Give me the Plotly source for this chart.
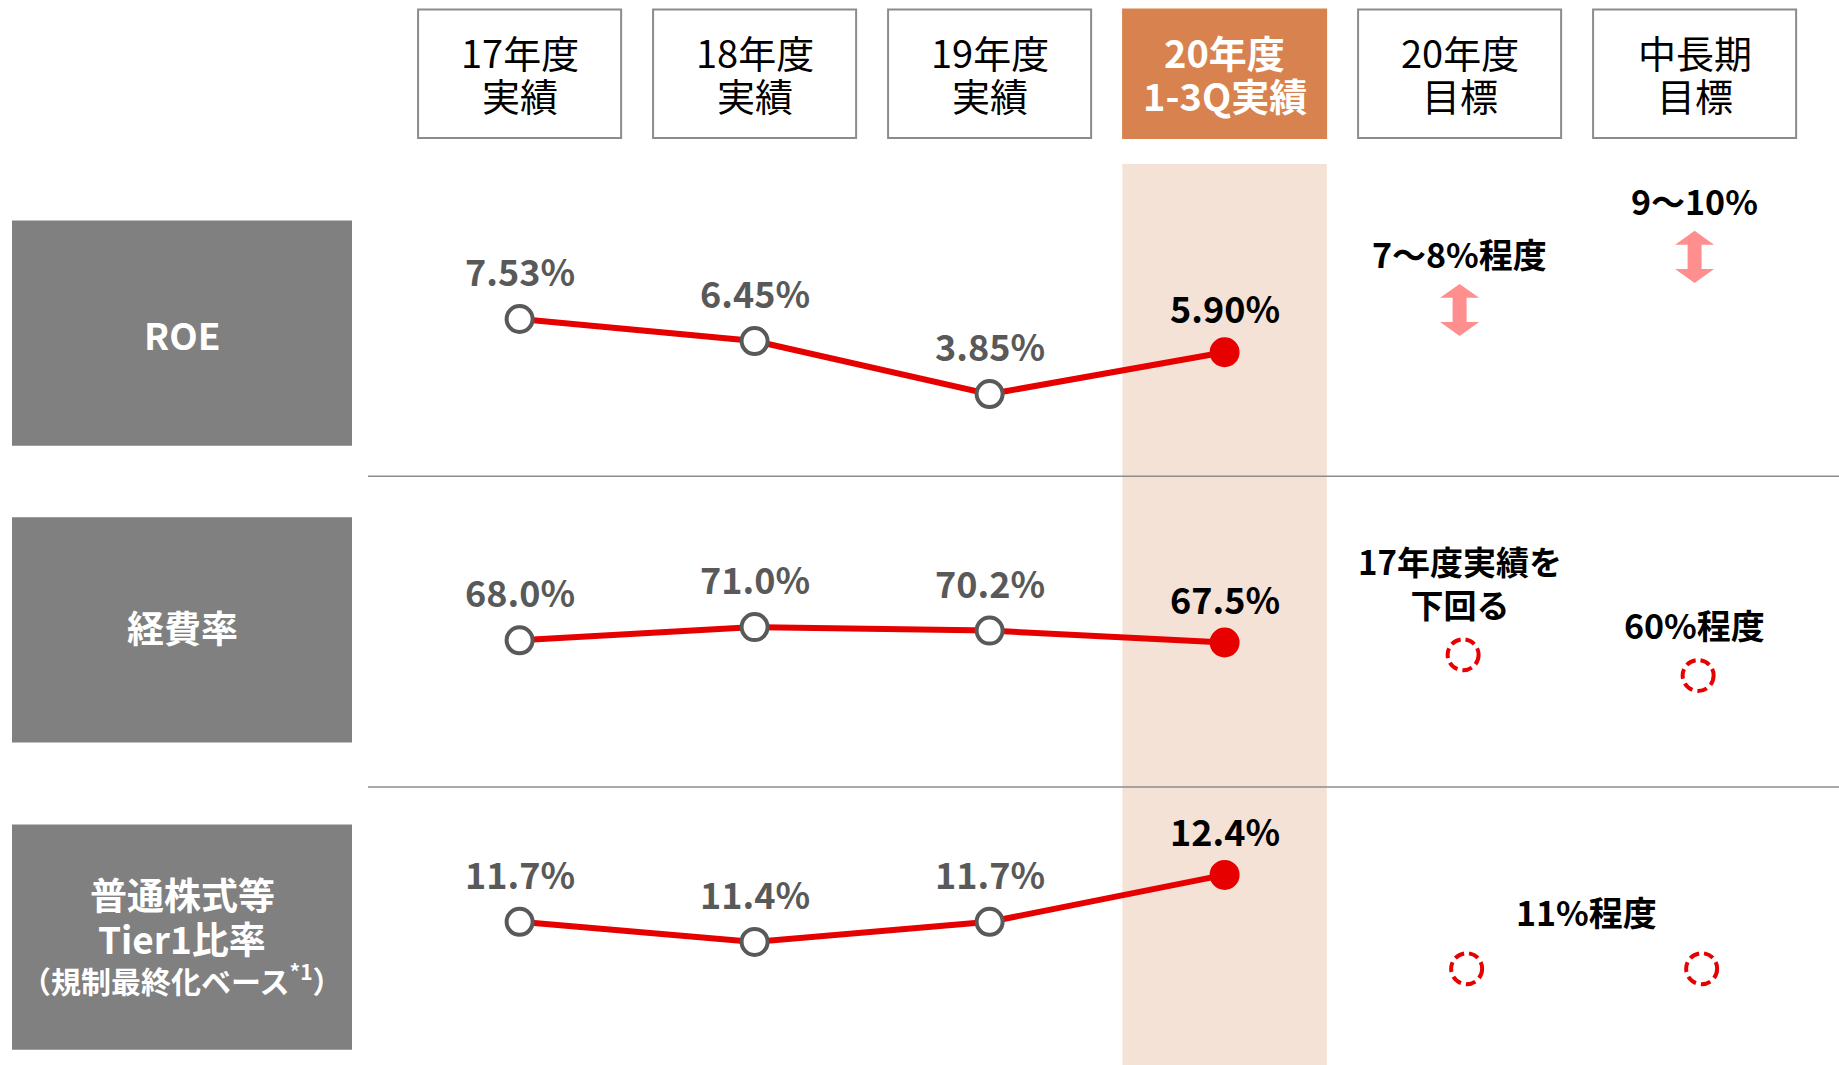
import plotly.graph_objects as go

# ---------------- data ----------------
periods_line1 = ["17年度", "18年度", "19年度", "20年度", "20年度", "中長期"]
periods_line2 = ["実績", "実績", "実績", "1-3Q実績", "目標", "目標"]
metrics = ["ROE", "経費率", "普通株式等", "Tier1比率"]
metric_note = "（規制最終化ベース<sup>*1</sup>）"

actual_x = [0, 1, 2, 3]
target_x = [4, 5]

roe = [7.53, 6.45, 3.85, 5.90]
expense_ratio = [68.0, 71.0, 70.2, 67.5]
cet1 = [11.7, 11.4, 11.7, 12.4]

roe_target_text = ["7～8%程度", "9～10%"]
roe_arrow_lo = [6.7, 9.3]
roe_arrow_hi = [9.25, 11.85]

expense_target_text = ["17年度実績を<br>下回る", "60%程度"]
expense_target_marker = [64.7, 60.0]

cet1_target_text = "11%程度"
cet1_target_marker = [11.0, 11.0]

# ---------------- style ----------------
W, H = 1839, 1065
FONT = "Noto Sans CJK JP"
RED = "#E60000"
GREY_TXT = "#595959"
BAND = "#F5E2D6"
ORANGE = "#D8834F"
BOX_GREY = "#808080"
PINK = "#FF8F8F"

def py(p):  # pixel from top -> paper
    return 1 - p / H

def px(p):
    return p / W

fig = go.Figure()

series = [(roe, "y", "{:.2f}%"), (expense_ratio, "y2", "{:.1f}%"), (cet1, "y3", "{:.1f}%")]
annotations = []
shapes = []

def ann(**kw):
    kw.setdefault("showarrow", False)
    kw.setdefault("xanchor", "center")
    kw.setdefault("yanchor", "middle")
    annotations.append(kw)

for vals, yax, fmt in series:
    fig.add_trace(go.Scatter(x=actual_x, y=vals, yaxis=yax, mode="lines",
                             line=dict(color=RED, width=6), hoverinfo="skip",
                             showlegend=False))
    n = len(vals)
    fig.add_trace(go.Scatter(
        x=actual_x, y=vals, yaxis=yax, mode="markers", showlegend=False,
        marker=dict(size=26,
                    color=["white"] * (n - 1) + [RED],
                    line=dict(color=[GREY_TXT] * (n - 1) + [RED], width=4)),
        hoverinfo="skip"))
    for i, (xv, v) in enumerate(zip(actual_x, vals)):
        last = i == n - 1
        ann(x=xv, y=v, xref="x", yref=yax, text=fmt.format(v),
            yshift=45 if last else 49,
            font=dict(family=FONT, size=36, color="black" if last else GREY_TXT,
                      weight="bold"))

# ---------- band for current year ----------
shapes.append(dict(type="rect", xref="x", yref="paper", x0=actual_x[-1] - 0.435,
                   x1=actual_x[-1] + 0.435, y0=0, y1=py(164), fillcolor=BAND,
                   line=dict(width=0), layer="below"))

# ---------- header boxes ----------
for i, (l1, l2) in enumerate(zip(periods_line1, periods_line2)):
    cur = i == 3
    shapes.append(dict(type="rect", xref="x", yref="paper", x0=i - 0.432, x1=i + 0.432,
                       y0=py(138), y1=py(9.5),
                       fillcolor=ORANGE if cur else "white",
                       line=dict(color=ORANGE if cur else "#8C8C8C", width=2),
                       layer="below"))
    f = dict(family=FONT, size=38, color="white" if cur else "black",
             weight="bold" if cur else "normal")
    ann(x=i, y=py(51), xref="x", yref="paper", text=l1, font=f)
    ann(x=i, y=py(94), xref="x", yref="paper", text=l2, font=f)

# ---------- row label boxes ----------
row_boxes = [(220.5, 445.7), (517.2, 742.4), (824.5, 1049.7)]
for (t, b) in row_boxes:
    shapes.append(dict(type="rect", xref="paper", yref="paper", x0=px(12), x1=px(352),
                       y0=py(b), y1=py(t), fillcolor=BOX_GREY, line=dict(width=0),
                       layer="below"))
lab_font = dict(family=FONT, size=37, color="white", weight="bold")
ann(x=px(182), y=py(334), xref="paper", yref="paper", text=metrics[0], font=lab_font)
ann(x=px(182), y=py(627), xref="paper", yref="paper", text=metrics[1], font=lab_font)
ann(x=px(182), y=py(894), xref="paper", yref="paper", text=metrics[2], font=lab_font)
ann(x=px(182), y=py(938), xref="paper", yref="paper", text=metrics[3], font=lab_font)
ann(x=px(182), y=py(979), xref="paper", yref="paper", text=metric_note,
    font=dict(family=FONT, size=30, color="white", weight="bold"))

# ---------- separators ----------
for yy in (476.2, 787.0):
    shapes.append(dict(type="line", xref="paper", yref="paper", x0=px(368), x1=1,
                       y0=py(yy), y1=py(yy), line=dict(color="#8C8C8C", width=1.5)))

# ---------- ROE target arrows ----------
sw, hw = 7, 19.5            # shaft / head half widths (px)
hl = 0.68                   # head length in ROE units
for xv, lo, hi, txt in zip(target_x, roe_arrow_lo, roe_arrow_hi, roe_target_text):
    path = (f"M {-sw},{lo + hl} L {-hw},{lo + hl} L 0,{lo} L {hw},{lo + hl} L {sw},{lo + hl} "
            f"L {sw},{hi - hl} L {hw},{hi - hl} L 0,{hi} L {-hw},{hi - hl} L {-sw},{hi - hl} Z")
    shapes.append(dict(type="path", xref="x", yref="y", xsizemode="pixel", xanchor=xv,
                       path=path, fillcolor=PINK, line=dict(width=0)))
    ann(x=xv, y=hi, xref="x", yref="y", text=txt, yanchor="bottom", yshift=4,
        font=dict(family=FONT, size=34, color="black", weight="bold"))

# ---------- dashed target circles ----------
def circle(xv, yv, yref):
    r = 15.5
    return dict(type="circle", xref="x", yref=yref, xsizemode="pixel", ysizemode="pixel",
                xanchor=xv, yanchor=yv, x0=-r, x1=r, y0=-r, y1=r,
                line=dict(color=RED, width=4, dash="10px,5px"))

for xv, v, txt in zip(target_x, expense_target_marker, expense_target_text):
    shapes.append(circle(xv + 0.015, v, "y2"))
    ann(x=xv, y=v, xref="x", yref="y2", text=txt, yanchor="bottom", yshift=25,
        font=dict(family=FONT, size=33 if "<br>" in txt else 34, color="black",
                  weight="bold"))

for xv, v in zip(target_x, cet1_target_marker):
    shapes.append(circle(xv + 0.03, v, "y3"))
ann(x=sum(target_x) / len(target_x) + 0.04, y=cet1_target_marker[0],
    xref="x", yref="y3", text=cet1_target_text, yanchor="bottom", yshift=31,
    font=dict(family=FONT, size=34, color="black", weight="bold"))

# ---------- axes ----------
x0px, step = 519.6, 235.0
xr = [(0 - x0px) / step, (W - x0px) / step]

def yrange(ref_val, ref_px, scale, top_px, bot_px):
    return [ref_val - (bot_px - ref_px) / scale, ref_val + (ref_px - top_px) / scale]

fig.update_layout(
    width=W, height=H, margin=dict(l=0, r=0, t=0, b=0),
    paper_bgcolor="white", plot_bgcolor="rgba(0,0,0,0)",
    showlegend=False,
    xaxis=dict(range=xr, visible=False, fixedrange=True),
    yaxis=dict(domain=[py(476.2), 1], range=yrange(7.53, 319.0, 20.4, 0, 476.2),
               visible=False, anchor="x"),
    yaxis2=dict(domain=[py(787), py(476.2)], range=yrange(68.0, 640.3, 4.4, 476.2, 787),
                visible=False, anchor="x"),
    yaxis3=dict(domain=[0, py(787)], range=yrange(11.7, 921.8, 67.0, 787, H),
                visible=False, anchor="x"),
    shapes=shapes, annotations=annotations,
    font=dict(family=FONT),
)

fig.write_html("out.html", config={"displayModeBar": False},
               post_script="document.body.style.margin='0';document.body.style.overflow='hidden';")
